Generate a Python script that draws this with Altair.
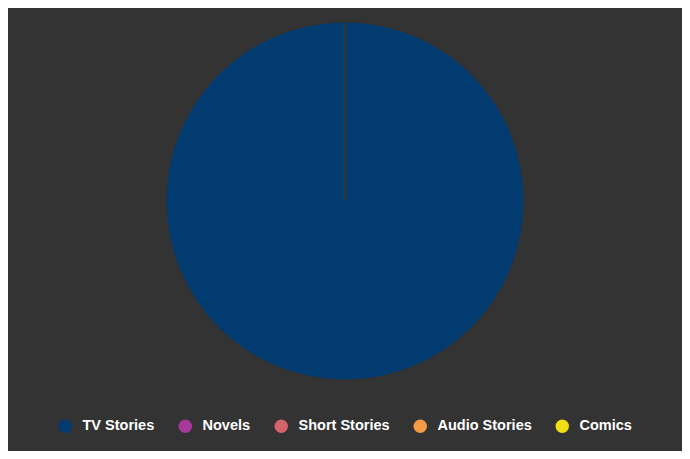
import altair as alt
import pandas as pd

categories = ["TV Stories", "Novels", "Short Stories", "Audio Stories", "Comics"]
values = [100, 0, 0, 0, 0]
colors = ["#023b6f", "#a8399b", "#d5636b", "#f59b45", "#f0de13"]

df = pd.DataFrame({"category": categories, "value": values, "order": list(range(len(categories)))})

chart = alt.Chart(df).mark_arc(radius=179, stroke="#333333", strokeWidth=1).encode(
    theta=alt.Theta("value:Q", stack=True),
    order=alt.Order("order:Q"),
    color=alt.Color(
        "category:N",
        sort=categories,
        scale=alt.Scale(domain=categories, range=colors),
        legend=alt.Legend(
            title=None,
            orient="none",
            legendX=50,
            legendY=411,
            direction="horizontal",
            symbolType="circle",
            symbolSize=180,
            symbolStrokeWidth=0,
            labelColor="white",
            labelFont="Liberation Sans",
            labelFontWeight="bold",
            labelFontSize=14.5,
            labelOffset=10,
            columnPadding=23,
            labelLimit=300,
        ),
    ),
).properties(
    width=674,
    height=386,
    background="#333333",
    padding={"left": 0, "top": 0, "right": 0, "bottom": 57},
    autosize=alt.AutoSizeParams(type="none"),
).configure_view(stroke=None)

chart.save("out.html", embed_options={"renderer": "svg", "actions": False})
